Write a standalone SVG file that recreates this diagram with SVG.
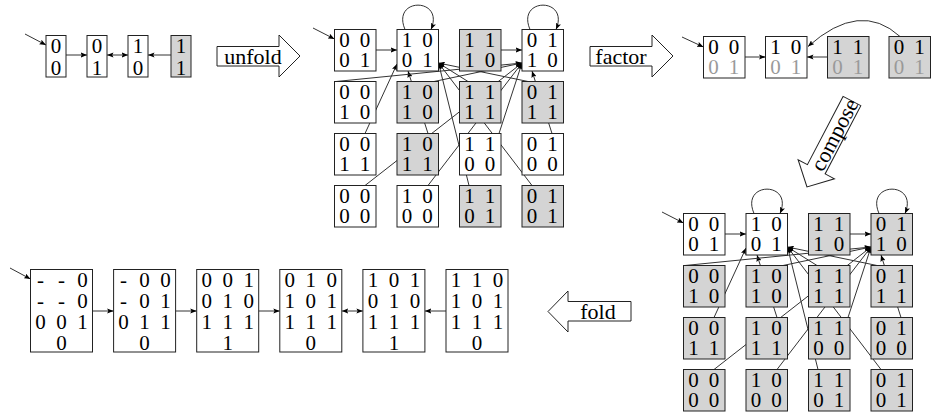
<svg xmlns="http://www.w3.org/2000/svg" width="931" height="415" viewBox="0 0 931 415">
<style>
.b{fill:#fff;stroke:#222;stroke-width:1}
.g{fill:#d4d4d4;stroke:#222;stroke-width:1}
text{font-family:"Liberation Serif","Times New Roman",serif;font-size:21px;text-anchor:middle;fill:#000}
.fx{fill:url(#half)}
.lbl{font-size:22px}
.e{fill:none;stroke:#333;stroke-width:1;marker-end:url(#ah)}
.d{marker-start:url(#ah)}
.big{fill:#fff;stroke:#222;stroke-width:1}
</style>
<defs>
<marker id="ah" viewBox="0 0 10 8" refX="10" refY="4" markerWidth="6.5" markerHeight="5.2" markerUnits="userSpaceOnUse" orient="auto-start-reverse"><path d="M0,0 L10,4 L0,8 L2,4 z" fill="#000"/></marker>
<linearGradient id="half" gradientUnits="userSpaceOnUse" x1="0" y1="0" x2="0" y2="41.5"><stop offset="0.5" stop-color="#000"/><stop offset="0.5" stop-color="#999"/></linearGradient>
</defs>

<g id="connectors">
<path class="e" d="M25 34 L46 45"/>
<path class="e" d="M66 55 L87 55"/>
<path class="e d" d="M107 55 L128 55"/>
<path class="e" d="M171 55 L148 55"/>
<g id="edges-unfold">
<path class="e" d="M313 28 L334.5 39"/>
<path class="e" d="M376 50 L397 50"/>
<path class="e" d="M501 50 L522 50"/>
<path class="e" d="M405 29.5 C391 -3 445 -3 431 29.5"/>
<path class="e" d="M530 29.5 C516 -3 570 -3 556 29.5"/>
<path class="e" d="M365 133.5 L397 64"/>
<path class="e" d="M428 133.5 L408 71"/>
<path class="e" d="M468 81.5 L438.5 63"/>
<path class="e" d="M528 81.5 L438.5 63"/>
<path class="e" d="M469 185.5 L438.5 63"/>
<path class="e" d="M532 185.5 L438.5 63"/>
<path class="e" d="M336 81.5 L522 63"/>
<path class="e" d="M434 81.5 L522 63"/>
<path class="e" d="M499 133.5 L522 63"/>
<path class="e" d="M552 133.5 L532 71"/>
<path class="e" d="M365 185.5 L522 63"/>
<path class="e" d="M428 185.5 L522 63"/>
</g>
<path class="e" d="M682 37 L703.5 47"/>
<path class="e" d="M745 57 L765.5 57"/>
<path class="e" d="M827.5 57 L807 57"/>
<path class="e" d="M900 36.5 Q860 0 808 46.5"/>
<g id="edges-compose" transform="translate(349,184)">
<path class="e" d="M313 28 L334.5 39"/>
<path class="e" d="M376 50 L397 50"/>
<path class="e" d="M501 50 L522 50"/>
<path class="e" d="M405 29.5 C391 -3 445 -3 431 29.5"/>
<path class="e" d="M530 29.5 C516 -3 570 -3 556 29.5"/>
<path class="e" d="M365 133.5 L397 64"/>
<path class="e" d="M428 133.5 L408 71"/>
<path class="e" d="M468 81.5 L438.5 63"/>
<path class="e" d="M528 81.5 L438.5 63"/>
<path class="e" d="M469 185.5 L438.5 63"/>
<path class="e" d="M532 185.5 L438.5 63"/>
<path class="e" d="M336 81.5 L522 63"/>
<path class="e" d="M434 81.5 L522 63"/>
<path class="e" d="M499 133.5 L522 63"/>
<path class="e" d="M552 133.5 L532 71"/>
<path class="e" d="M365 185.5 L522 63"/>
<path class="e" d="M428 185.5 L522 63"/>
</g>
<path class="e" d="M10 268 L30.5 279"/>
<path class="e" d="M92.5 311 L113.6 311"/>
<path class="e" d="M175.6 311 L196.7 311"/>
<path class="e" d="M258.7 311 L279.8 311"/>
<path class="e d" d="M341.8 311 L362.9 311"/>
<path class="e" d="M446 311 L424.9 311"/>
</g>

<g id="o00" transform="translate(46,35.5)"><rect class="b" width="20" height="41.5"/><text x="10 10 10" y="17.5 17.5 39.5">0 0</text></g>
<g id="o01" transform="translate(87,35.5)"><rect class="b" width="20" height="41.5"/><text x="10 10 10" y="17.5 17.5 39.5">0 1</text></g>
<g id="o10" transform="translate(128,35.5)"><rect class="b" width="20" height="41.5"/><text x="10 10 10" y="17.5 17.5 39.5">1 0</text></g>
<g id="o11" transform="translate(171,35.5)"><rect class="g" width="20" height="41.5"/><text x="10 10 10" y="17.5 17.5 39.5">1 1</text></g>

<g id="unfold"><path class="big" d="M217 46.5 L279 46.5 L279 35 L300 56 L279 77 L279 66 L217 66 Z"/><text class="lbl" x="253" y="63.5">unfold</text></g>
<g id="factor"><path class="big" d="M590 46.5 L652 46.5 L652 35 L673 56 L652 77 L652 66 L590 66 Z"/><text class="lbl" x="621" y="63.5">factor</text></g>
<g id="compose" transform="translate(807,187) rotate(-62.4)"><path class="big" d="M0 0 L20 -20.5 L20 -10 L97 -10 L97 10 L20 10 L20 20.5 Z"/><text class="lbl" x="59" y="7.5">compose</text></g>
<g id="fold"><path class="big" d="M548 311.5 L568 291 L568 301.5 L631 301.5 L631 321 L568 321 L568 332 Z"/><text class="lbl" x="598" y="319">fold</text></g>

<g id="u11" transform="translate(334.5,29.5)"><rect class="b" width="41.5" height="41.5"/><text x="10 20.25 30.5 35 10 20.25 30.5" y="17.5 17.5 17.5 17.5 37.5 37.5 37.5">0 0 0 1</text></g>
<g id="u12" transform="translate(397,29.5)"><rect class="b" width="41.5" height="41.5"/><text x="10 20.25 30.5 35 10 20.25 30.5" y="17.5 17.5 17.5 17.5 37.5 37.5 37.5">1 0 0 1</text></g>
<g id="u13" transform="translate(459.5,29.5)"><rect class="g" width="41.5" height="41.5"/><text x="10 20.25 30.5 35 10 20.25 30.5" y="17.5 17.5 17.5 17.5 37.5 37.5 37.5">1 1 1 0</text></g>
<g id="u14" transform="translate(522,29.5)"><rect class="b" width="41.5" height="41.5"/><text x="10 20.25 30.5 35 10 20.25 30.5" y="17.5 17.5 17.5 17.5 37.5 37.5 37.5">0 1 1 0</text></g>
<g id="u21" transform="translate(334.5,81.5)"><rect class="b" width="41.5" height="41.5"/><text x="10 20.25 30.5 35 10 20.25 30.5" y="17.5 17.5 17.5 17.5 37.5 37.5 37.5">0 0 1 0</text></g>
<g id="u22" transform="translate(397,81.5)"><rect class="g" width="41.5" height="41.5"/><text x="10 20.25 30.5 35 10 20.25 30.5" y="17.5 17.5 17.5 17.5 37.5 37.5 37.5">1 0 1 0</text></g>
<g id="u23" transform="translate(459.5,81.5)"><rect class="g" width="41.5" height="41.5"/><text x="10 20.25 30.5 35 10 20.25 30.5" y="17.5 17.5 17.5 17.5 37.5 37.5 37.5">1 1 1 1</text></g>
<g id="u24" transform="translate(522,81.5)"><rect class="g" width="41.5" height="41.5"/><text x="10 20.25 30.5 35 10 20.25 30.5" y="17.5 17.5 17.5 17.5 37.5 37.5 37.5">0 1 1 1</text></g>
<g id="u31" transform="translate(334.5,133.5)"><rect class="b" width="41.5" height="41.5"/><text x="10 20.25 30.5 35 10 20.25 30.5" y="17.5 17.5 17.5 17.5 37.5 37.5 37.5">0 0 1 1</text></g>
<g id="u32" transform="translate(397,133.5)"><rect class="g" width="41.5" height="41.5"/><text x="10 20.25 30.5 35 10 20.25 30.5" y="17.5 17.5 17.5 17.5 37.5 37.5 37.5">1 0 1 1</text></g>
<g id="u33" transform="translate(459.5,133.5)"><rect class="b" width="41.5" height="41.5"/><text x="10 20.25 30.5 35 10 20.25 30.5" y="17.5 17.5 17.5 17.5 37.5 37.5 37.5">1 1 0 0</text></g>
<g id="u34" transform="translate(522,133.5)"><rect class="b" width="41.5" height="41.5"/><text x="10 20.25 30.5 35 10 20.25 30.5" y="17.5 17.5 17.5 17.5 37.5 37.5 37.5">0 1 0 0</text></g>
<g id="u41" transform="translate(334.5,185.5)"><rect class="b" width="41.5" height="41.5"/><text x="10 20.25 30.5 35 10 20.25 30.5" y="17.5 17.5 17.5 17.5 37.5 37.5 37.5">0 0 0 0</text></g>
<g id="u42" transform="translate(397,185.5)"><rect class="b" width="41.5" height="41.5"/><text x="10 20.25 30.5 35 10 20.25 30.5" y="17.5 17.5 17.5 17.5 37.5 37.5 37.5">1 0 0 0</text></g>
<g id="u43" transform="translate(459.5,185.5)"><rect class="g" width="41.5" height="41.5"/><text x="10 20.25 30.5 35 10 20.25 30.5" y="17.5 17.5 17.5 17.5 37.5 37.5 37.5">1 1 0 1</text></g>
<g id="u44" transform="translate(522,185.5)"><rect class="g" width="41.5" height="41.5"/><text x="10 20.25 30.5 35 10 20.25 30.5" y="17.5 17.5 17.5 17.5 37.5 37.5 37.5">0 1 0 1</text></g>

<g id="f00" transform="translate(703.5,36.5)"><rect class="b" width="41.5" height="41.5"/><text class="fx" x="10 20.25 30.5 35 10 20.25 30.5" y="17.5 17.5 17.5 17.5 37.5 37.5 37.5">0 0 0 1</text></g>
<g id="f10" transform="translate(765.5,36.5)"><rect class="b" width="41.5" height="41.5"/><text class="fx" x="10 20.25 30.5 35 10 20.25 30.5" y="17.5 17.5 17.5 17.5 37.5 37.5 37.5">1 0 0 1</text></g>
<g id="f11" transform="translate(827.5,36.5)"><rect class="g" width="41.5" height="41.5"/><text class="fx" x="10 20.25 30.5 35 10 20.25 30.5" y="17.5 17.5 17.5 17.5 37.5 37.5 37.5">1 1 0 1</text></g>
<g id="f01" transform="translate(889,36.5)"><rect class="g" width="41.5" height="41.5"/><text class="fx" x="10 20.25 30.5 35 10 20.25 30.5" y="17.5 17.5 17.5 17.5 37.5 37.5 37.5">0 1 0 1</text></g>

<g id="c11" transform="translate(683.5,213.5)"><rect class="b" width="41.5" height="41.5"/><text x="10 20.25 30.5 35 10 20.25 30.5" y="17.5 17.5 17.5 17.5 37.5 37.5 37.5">0 0 0 1</text></g>
<g id="c12" transform="translate(746,213.5)"><rect class="b" width="41.5" height="41.5"/><text x="10 20.25 30.5 35 10 20.25 30.5" y="17.5 17.5 17.5 17.5 37.5 37.5 37.5">1 0 0 1</text></g>
<g id="c13" transform="translate(808.5,213.5)"><rect class="g" width="41.5" height="41.5"/><text x="10 20.25 30.5 35 10 20.25 30.5" y="17.5 17.5 17.5 17.5 37.5 37.5 37.5">1 1 1 0</text></g>
<g id="c14" transform="translate(871,213.5)"><rect class="g" width="41.5" height="41.5"/><text x="10 20.25 30.5 35 10 20.25 30.5" y="17.5 17.5 17.5 17.5 37.5 37.5 37.5">0 1 1 0</text></g>
<g id="c21" transform="translate(683.5,265.5)"><rect class="g" width="41.5" height="41.5"/><text x="10 20.25 30.5 35 10 20.25 30.5" y="17.5 17.5 17.5 17.5 37.5 37.5 37.5">0 0 1 0</text></g>
<g id="c22" transform="translate(746,265.5)"><rect class="g" width="41.5" height="41.5"/><text x="10 20.25 30.5 35 10 20.25 30.5" y="17.5 17.5 17.5 17.5 37.5 37.5 37.5">1 0 1 0</text></g>
<g id="c23" transform="translate(808.5,265.5)"><rect class="g" width="41.5" height="41.5"/><text x="10 20.25 30.5 35 10 20.25 30.5" y="17.5 17.5 17.5 17.5 37.5 37.5 37.5">1 1 1 1</text></g>
<g id="c24" transform="translate(871,265.5)"><rect class="g" width="41.5" height="41.5"/><text x="10 20.25 30.5 35 10 20.25 30.5" y="17.5 17.5 17.5 17.5 37.5 37.5 37.5">0 1 1 1</text></g>
<g id="c31" transform="translate(683.5,317.5)"><rect class="g" width="41.5" height="41.5"/><text x="10 20.25 30.5 35 10 20.25 30.5" y="17.5 17.5 17.5 17.5 37.5 37.5 37.5">0 0 1 1</text></g>
<g id="c32" transform="translate(746,317.5)"><rect class="g" width="41.5" height="41.5"/><text x="10 20.25 30.5 35 10 20.25 30.5" y="17.5 17.5 17.5 17.5 37.5 37.5 37.5">1 0 1 1</text></g>
<g id="c33" transform="translate(808.5,317.5)"><rect class="g" width="41.5" height="41.5"/><text x="10 20.25 30.5 35 10 20.25 30.5" y="17.5 17.5 17.5 17.5 37.5 37.5 37.5">1 1 0 0</text></g>
<g id="c34" transform="translate(871,317.5)"><rect class="g" width="41.5" height="41.5"/><text x="10 20.25 30.5 35 10 20.25 30.5" y="17.5 17.5 17.5 17.5 37.5 37.5 37.5">0 1 0 0</text></g>
<g id="c41" transform="translate(683.5,369.5)"><rect class="g" width="41.5" height="41.5"/><text x="10 20.25 30.5 35 10 20.25 30.5" y="17.5 17.5 17.5 17.5 37.5 37.5 37.5">0 0 0 0</text></g>
<g id="c42" transform="translate(746,369.5)"><rect class="g" width="41.5" height="41.5"/><text x="10 20.25 30.5 35 10 20.25 30.5" y="17.5 17.5 17.5 17.5 37.5 37.5 37.5">1 0 0 0</text></g>
<g id="c43" transform="translate(808.5,369.5)"><rect class="g" width="41.5" height="41.5"/><text x="10 20.25 30.5 35 10 20.25 30.5" y="17.5 17.5 17.5 17.5 37.5 37.5 37.5">1 1 0 1</text></g>
<g id="c44" transform="translate(871,369.5)"><rect class="g" width="41.5" height="41.5"/><text x="10 20.25 30.5 35 10 20.25 30.5" y="17.5 17.5 17.5 17.5 37.5 37.5 37.5">0 1 0 1</text></g>

<g id="r1" transform="translate(30.5,269.5)"><rect class="b" width="62" height="82.5"/><text x="10 20.5 31 41.5 52 56 10 20.5 31 41.5 52 56 10 20.5 31 41.5 52 56 31" y="17.5 17.5 17.5 17.5 17.5 17.5 38 38 38 38 38 38 59 59 59 59 59 59 80">- - 0 - - 0 0 0 1 0</text></g>
<g id="r2" transform="translate(113.6,269.5)"><rect class="b" width="62" height="82.5"/><text x="10 20.5 31 41.5 52 56 10 20.5 31 41.5 52 56 10 20.5 31 41.5 52 56 31" y="17.5 17.5 17.5 17.5 17.5 17.5 38 38 38 38 38 38 59 59 59 59 59 59 80">- 0 0 - 0 1 0 1 1 0</text></g>
<g id="r3" transform="translate(196.7,269.5)"><rect class="b" width="62" height="82.5"/><text x="10 20.5 31 41.5 52 56 10 20.5 31 41.5 52 56 10 20.5 31 41.5 52 56 31" y="17.5 17.5 17.5 17.5 17.5 17.5 38 38 38 38 38 38 59 59 59 59 59 59 80">0 0 1 0 1 0 1 1 1 1</text></g>
<g id="r4" transform="translate(279.8,269.5)"><rect class="b" width="62" height="82.5"/><text x="10 20.5 31 41.5 52 56 10 20.5 31 41.5 52 56 10 20.5 31 41.5 52 56 31" y="17.5 17.5 17.5 17.5 17.5 17.5 38 38 38 38 38 38 59 59 59 59 59 59 80">0 1 0 1 0 1 1 1 1 0</text></g>
<g id="r5" transform="translate(362.9,269.5)"><rect class="b" width="62" height="82.5"/><text x="10 20.5 31 41.5 52 56 10 20.5 31 41.5 52 56 10 20.5 31 41.5 52 56 31" y="17.5 17.5 17.5 17.5 17.5 17.5 38 38 38 38 38 38 59 59 59 59 59 59 80">1 0 1 0 1 0 1 1 1 1</text></g>
<g id="r6" transform="translate(446,269.5)"><rect class="b" width="62" height="82.5"/><text x="10 20.5 31 41.5 52 56 10 20.5 31 41.5 52 56 10 20.5 31 41.5 52 56 31" y="17.5 17.5 17.5 17.5 17.5 17.5 38 38 38 38 38 38 59 59 59 59 59 59 80">1 1 0 1 0 1 1 1 1 0</text></g>
</svg>
